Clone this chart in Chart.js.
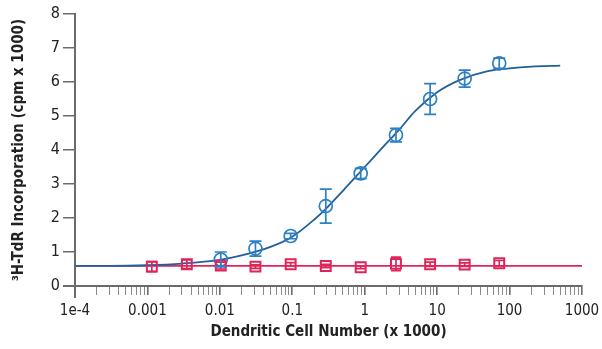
<!DOCTYPE html>
<html>
<head>
<meta charset="utf-8">
<script src="https://cdn.jsdelivr.net/npm/chart.js@4/dist/chart.umd.min.js"></script>
<style>
  html, body { margin: 0; padding: 0; background: #fff; }
  #wrap { width: 602px; height: 349px; }
</style>
</head>
<body>
<div id="wrap"><canvas id="dcChart" width="602" height="349"></canvas></div>
<script>
// eixo x (log)
const xDecades = [1e-4, 0.001, 0.01, 0.1, 1, 10, 100, 1000];
const xTickLabels = ["1e-4", "0.001", "0.01", "0.1", "1", "10", "100", "1000"];

// pontos medidos - DC estimuladas (azul)
const blueX   = [0.0103, 0.031, 0.095, 0.29, 0.88, 2.7, 8.0, 24, 72];
const blueY   = [0.78, 1.10, 1.47, 2.35, 3.31, 4.44, 5.50, 6.10, 6.55];
const blueErr = [0.22, 0.22, 0.08, 0.50, 0.15, 0.20, 0.45, 0.25, 0.15];

// pontos medidos - controle (vermelho)
const redX   = [0.00115, 0.0035, 0.0103, 0.031, 0.095, 0.29, 0.88, 2.7, 8.0, 24, 72];
const redY   = [0.57, 0.64, 0.60, 0.57, 0.64, 0.59, 0.55, 0.65, 0.64, 0.63, 0.67];
const redErr = [0.15, 0.13, 0.10, 0.05, 0.05, 0.05, 0.04, 0.20, 0.06, 0.05, 0.08];

// curva ajustada
const fitX = [1e-4, 3e-4, 0.001, 0.003, 0.01, 0.02, 0.05, 0.1, 0.2, 0.3, 0.5, 1, 2, 3, 5, 10, 20, 50, 100, 200, 500];
const fitY = [0.59, 0.59, 0.61, 0.66, 0.77, 0.90, 1.15, 1.45, 1.95, 2.30, 2.80, 3.50, 4.20, 4.60, 5.15, 5.70, 6.05, 6.32, 6.40, 6.45, 6.48];

// linha de base do controle
const baseX = [1e-4, 1000];
const baseY = [0.59, 0.59];

const blue = "#2c80c3";
const blueLine = "#22609b";
const red = "#e0245a";
const axisColor = "#6b6b6b";
const fontFamily = "'Liberation Sans Narrow', 'DejaVu Sans Condensed', 'Arial Narrow', sans-serif";

const toPts = (xs, ys) => xs.map((x, i) => ({ x, y: ys[i] }));

// barras de erro
const errorBars = {
  id: "errorBars",
  afterDatasetsDraw(chart) {
    const ctx = chart.ctx;
    const xs = chart.scales.x, ys = chart.scales.y;
    chart.data.datasets.forEach(ds => {
      if (!ds.err) return;
      ctx.save();
      ctx.strokeStyle = ds.borderColor;
      ctx.lineWidth = 1.7;
      ds.data.forEach((p, i) => {
        const px = xs.getPixelForValue(p.x);
        const top = ys.getPixelForValue(p.y + ds.err[i]);
        const bot = ys.getPixelForValue(p.y - ds.err[i]);
        const c = ds.capHalf;
        ctx.beginPath();
        ctx.moveTo(px, top); ctx.lineTo(px, bot);
        ctx.moveTo(px - c, top); ctx.lineTo(px + c, top);
        ctx.moveTo(px - c, bot); ctx.lineTo(px + c, bot);
        ctx.stroke();
      });
      ctx.restore();
    });
  }
};

// prolonga os eixos um pouco além da origem
const axisExt = {
  id: "axisExt",
  afterDraw(chart) {
    const { left, bottom } = chart.chartArea;
    const ctx = chart.ctx;
    ctx.save();
    ctx.strokeStyle = axisColor;
    ctx.lineWidth = 2;
    ctx.beginPath();
    ctx.moveTo(left, bottom); ctx.lineTo(left, bottom + 12);
    ctx.moveTo(left, bottom); ctx.lineTo(left - 12, bottom);
    ctx.stroke();
    ctx.restore();
  }
};

new Chart(document.getElementById("dcChart").getContext("2d"), {
  type: "line",
  data: {
    datasets: [
      {
        label: "ctrl pts",
        data: toPts(redX, redY),
        err: redErr, capHalf: 5,
        showLine: false,
        pointStyle: "rect",
        pointRadius: 7,
        pointBorderWidth: 2,
        borderColor: red,
        backgroundColor: "rgba(255,255,255,0)",
        order: 0
      },
      {
        label: "DC pts",
        data: toPts(blueX, blueY),
        err: blueErr, capHalf: 6,
        showLine: false,
        pointStyle: "circle",
        pointRadius: 6.5,
        pointBorderWidth: 1.7,
        borderColor: blue,
        backgroundColor: "rgba(255,255,255,0)",
        order: 1
      },
      {
        label: "fit",
        data: toPts(fitX, fitY),
        borderColor: blueLine,
        borderWidth: 1.8,
        pointRadius: 0,
        cubicInterpolationMode: "monotone",
        order: 2
      },
      {
        label: "base",
        data: toPts(baseX, baseY),
        borderColor: red,
        borderWidth: 1.8,
        pointRadius: 0,
        order: 3
      }
    ]
  },
  options: {
    responsive: false,
    animation: false,
    layout: { padding: { top: 14, right: 0, left: 0, bottom: 0 } },
    plugins: { legend: { display: false }, tooltip: { enabled: false } },
    scales: {
      x: {
        type: "logarithmic",
        min: 1e-4, max: 1000,
        afterBuildTicks: scale => {
          const t = [];
          xDecades.forEach((d, i) => {
            t.push({ value: d, major: true });
            if (i < xDecades.length - 1) for (let k = 2; k <= 9; k++) t.push({ value: d * k });
          });
          scale.ticks = t;
        },
        afterFit: scale => { scale.height = 63; scale.paddingRight = 20; },
        ticks: {
          autoSkip: false, maxRotation: 0, padding: 7,
          color: "#222",
          font: { family: fontFamily, size: 15 },
          callback: v => {
            const i = xDecades.findIndex(d => Math.abs(Math.log10(d) - Math.log10(v)) < 1e-6);
            return i >= 0 ? xTickLabels[i] : "";
          }
        },
        grid: {
          drawOnChartArea: false, drawTicks: true, tickLength: 9,
          color: c => (c.tick && c.tick.major ? axisColor : "#8a8a8a"),
          lineWidth: c => (c.tick && c.tick.major ? 1.6 : 1)
        },
        border: { color: axisColor, width: 2 },
        title: {
          display: true, text: "Dendritic Cell Number (x 1000)",
          color: "#222", padding: { top: 10, bottom: 8 },
          font: { family: fontFamily, size: 15, weight: "bold" }
        }
      },
      y: {
        min: 0, max: 8,
        afterFit: scale => { scale.width = 75; },
        ticks: {
          stepSize: 1, padding: 3, color: "#222",
          font: { family: fontFamily, size: 16 }
        },
        grid: { drawOnChartArea: false, drawTicks: true, tickLength: 12, color: axisColor, lineWidth: 1.5 },
        border: { color: axisColor, width: 2 },
        title: {
          display: true, text: "³H-TdR Incorporation (cpm x 1000)",
          color: "#222", padding: 10,
          font: { family: fontFamily, size: 15, weight: "bold" }
        }
      }
    }
  },
  plugins: [errorBars, axisExt]
});
</script>
</body>
</html>
